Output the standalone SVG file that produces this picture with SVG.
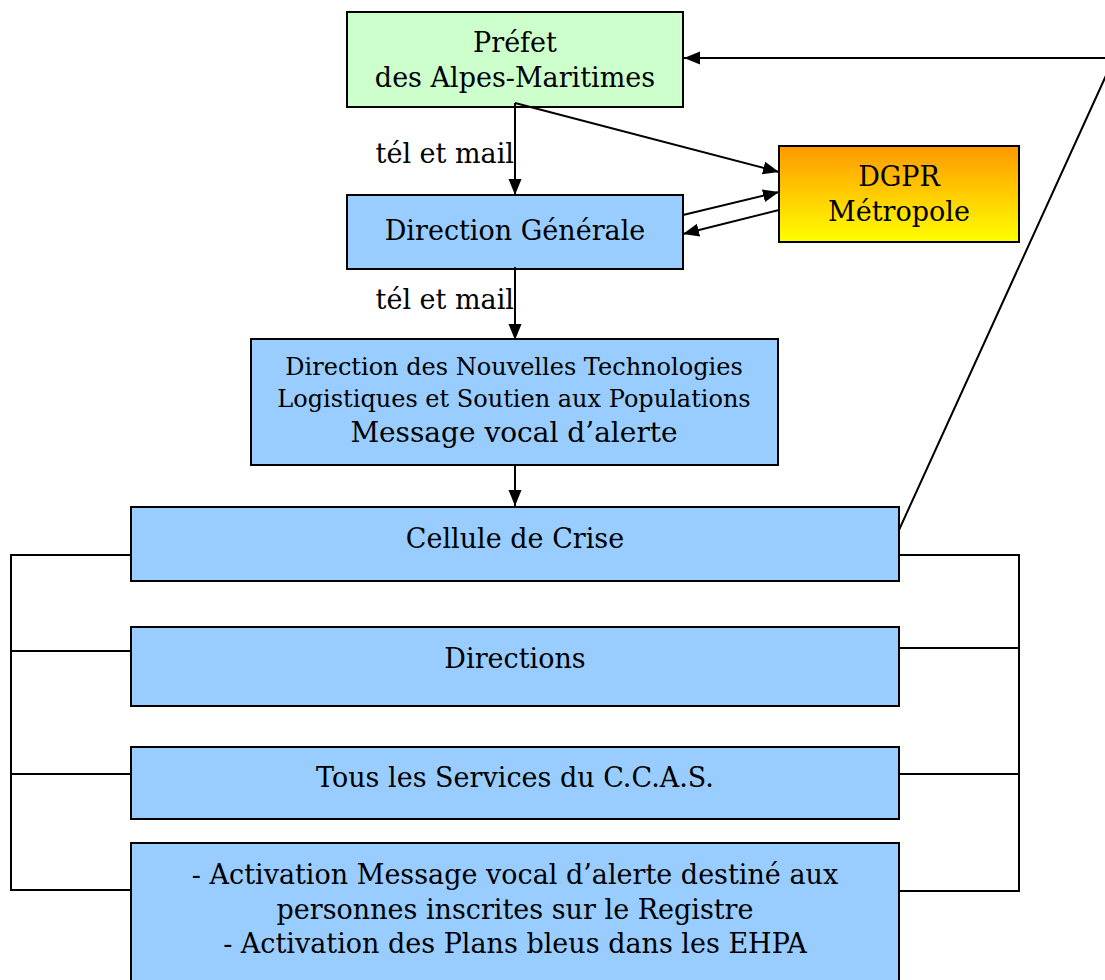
<svg xmlns="http://www.w3.org/2000/svg" width="1105" height="980" viewBox="0 0 1105 980">
<style>
.box{stroke:#000;stroke-width:2}
.blue{fill:#99CCFF}
.t{font-family:"DejaVu Serif","Liberation Serif",serif;font-size:27px;fill:#000;text-anchor:middle}
.s{font-size:24px}
.m{font-size:28px}
.lbl{font-family:"DejaVu Serif","Liberation Serif",serif;font-size:27px;fill:#000;text-anchor:end}
.c{stroke:#000;stroke-width:2;fill:none}
</style>
<defs>
<linearGradient id="g" x1="0" y1="0" x2="0" y2="1">
<stop offset="0" stop-color="#FF9900"/>
<stop offset="1" stop-color="#FFFF00"/>
</linearGradient>
<marker id="b" viewBox="0 0 16 14" refX="16" refY="7" markerWidth="16" markerHeight="14" markerUnits="userSpaceOnUse" orient="auto">
<path d="M0,0.5 L16,7 L0,13.5 z" fill="#000"/>
</marker>
</defs>
<g id="prefet">
<rect class="box" x="347" y="12" width="336" height="95" fill="#CCFFCC"/>
<text class="t" x="515" y="52">Préfet</text>
<text class="t" x="515" y="87">des Alpes-Maritimes</text>
</g>
<g id="direction-generale">
<rect class="box blue" x="347" y="195" width="336" height="74"/>
<text class="t" x="515" y="240">Direction Générale</text>
</g>
<g id="dgpr">
<rect class="box" x="779" y="146" width="240" height="96" fill="url(#g)"/>
<text class="t" x="899" y="186">DGPR</text>
<text class="t" x="899" y="221">Métropole</text>
</g>
<g id="dntlsp">
<rect class="box blue" x="251" y="339" width="527" height="126"/>
<text class="t s" x="514" y="375">Direction des Nouvelles Technologies</text>
<text class="t s" x="514" y="407">Logistiques et Soutien aux Populations</text>
<text class="t m" x="514" y="442">Message vocal d’alerte</text>
</g>
<g id="cellule">
<rect class="box blue" x="131" y="507" width="768" height="74"/>
<text class="t" x="515" y="548">Cellule de Crise</text>
</g>
<g id="directions">
<rect class="box blue" x="131" y="627" width="768" height="79"/>
<text class="t" x="515" y="668">Directions</text>
</g>
<g id="services">
<rect class="box blue" x="131" y="747" width="768" height="72"/>
<text class="t" x="515" y="787">Tous les Services du C.C.A.S.</text>
</g>
<g id="activation">
<rect class="box blue" x="131" y="843" width="768" height="145"/>
<text class="t" x="515" y="884">- Activation Message vocal d’alerte destiné aux</text>
<text class="t" x="515" y="919">personnes inscrites sur le Registre</text>
<text class="t" x="515" y="953">- Activation des Plans bleus dans les EHPA</text>
</g>
<g id="connectors">
<line class="c" x1="515" y1="103" x2="515" y2="195" marker-end="url(#b)"/>
<line class="c" x1="515" y1="103" x2="779" y2="172" marker-end="url(#b)"/>
<line class="c" x1="683" y1="215" x2="779" y2="192" marker-end="url(#b)"/>
<line class="c" x1="779" y1="210" x2="683" y2="234" marker-end="url(#b)"/>
<line class="c" x1="515" y1="267" x2="515" y2="340" marker-end="url(#b)"/>
<line class="c" x1="515" y1="465" x2="515" y2="506" marker-end="url(#b)"/>
<polyline class="c" points="899,530 1114,58 684,58" marker-end="url(#b)"/>
<polyline class="c" points="131,555 11,555 11,890 131,890"/>
<line class="c" x1="11" y1="651" x2="131" y2="651"/>
<line class="c" x1="11" y1="774" x2="131" y2="774"/>
<polyline class="c" points="899,555 1019,555 1019,891 899,891"/>
<line class="c" x1="899" y1="648" x2="1019" y2="648"/>
<line class="c" x1="899" y1="774" x2="1019" y2="774"/>
<text class="lbl" x="514" y="163">tél et mail</text>
<text class="lbl" x="514" y="309">tél et mail</text>
</g>
</svg>
